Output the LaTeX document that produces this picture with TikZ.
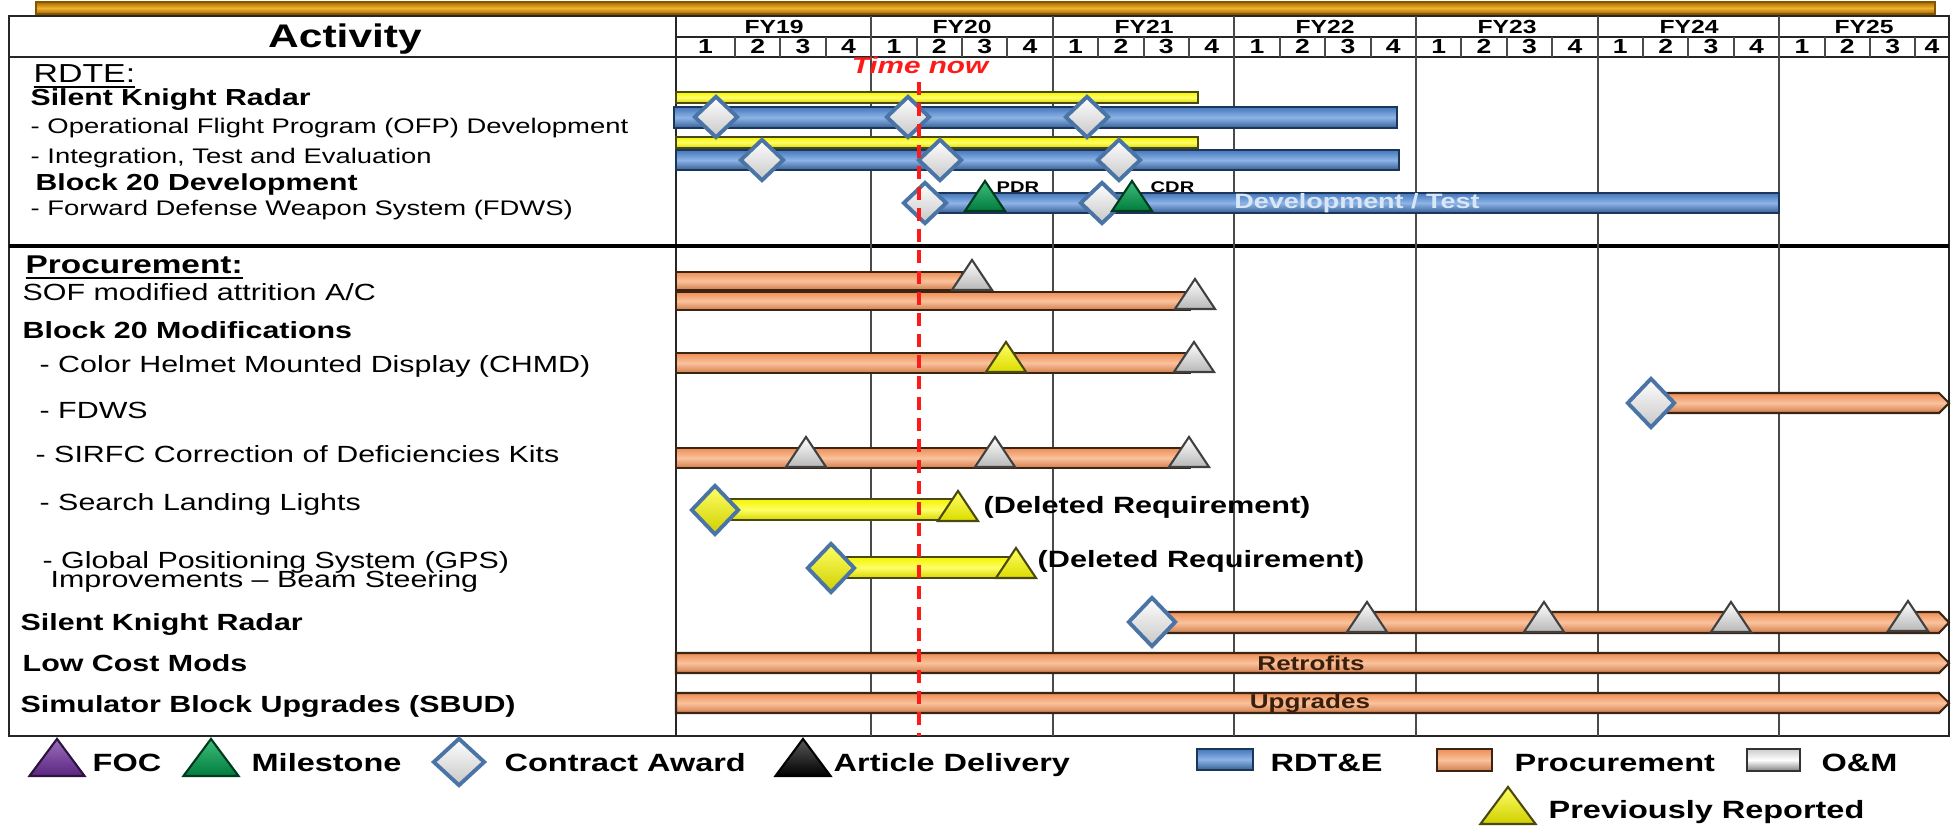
\documentclass[tikz,border=0pt]{standalone}
\usepackage{fontspec}
\setmainfont{Liberation Sans}[FakeStretch=1.3]
\usepackage{xcolor}
\usepackage{tikz}
\usetikzlibrary{shapes.geometric}
\definecolor{rdtBlue}{HTML}{4477BC}
\definecolor{rdtBlueLt}{HTML}{8DB4E6}
\definecolor{rdtBlueDk}{HTML}{1C365A}
\definecolor{procOrange}{HTML}{EE8E55}
\definecolor{procOrangeLt}{HTML}{FAC29C}
\definecolor{procOrangeDk}{HTML}{3A2414}
\definecolor{prevYellow}{HTML}{F4F400}
\definecolor{prevYellowLt}{HTML}{FFFF66}
\definecolor{prevYellowDk}{HTML}{4A4A10}
\definecolor{awardSteel}{HTML}{4A74A6}
\definecolor{msGreen}{HTML}{00A651}
\definecolor{focPurple}{HTML}{7030A0}
\definecolor{nowRed}{HTML}{FF1A1A}
\definecolor{gridGray}{HTML}{4A4A4A}
\definecolor{bannerGold}{HTML}{F0B030}
\definecolor{bannerBrown}{HTML}{A86A00}
\definecolor{devText}{HTML}{D8E6F6}
\definecolor{procText}{HTML}{3A1E0C}

\begin{document}
\begin{tikzpicture}[
    x=0.01cm, y=-0.01cm,
    grid/.style={draw=gridGray, line width=0.6pt},
    frame/.style={draw=black!85, line width=0.6pt},
    rdtbar/.style={draw=rdtBlueDk, line width=0.6pt, top color=rdtBlue, bottom color=rdtBlue!80!black, middle color=rdtBlueLt},
    procbar/.style={draw=procOrangeDk, line width=0.6pt, top color=procOrange, bottom color=procOrange!88!black, middle color=procOrangeLt},
    prevbar/.style={draw=prevYellowDk, line width=0.6pt, top color=prevYellow, bottom color=prevYellow!88!black, middle color=prevYellowLt},
    award/.style={diamond, draw=awardSteel, line width=1.1pt, top color=white, bottom color=black!22, minimum width=0.44cm, minimum height=0.42cm, inner sep=0pt},
    paward/.style={award, minimum width=0.48cm, minimum height=0.50cm},
    prevaward/.style={paward, top color=prevYellowLt, bottom color=prevYellow!85!black},
    tri/.style={isosceles triangle, isosceles triangle stretches, shape border rotate=90, minimum width=0.40cm, minimum height=0.30cm, inner sep=0pt, anchor=south, line width=0.6pt},
    keytri/.style={tri, minimum width=0.55cm, minimum height=0.37cm},
    omtri/.style={tri, draw=black!75, top color=white, bottom color=black!28},
    prevtri/.style={tri, draw=prevYellowDk, top color=prevYellowLt, bottom color=prevYellow!90!black},
    mstri/.style={tri, draw=msGreen!35!black, top color=msGreen!75!white, bottom color=msGreen!75!black},
    lbl/.style={anchor=base west, inner sep=0pt},
    head/.style={lbl, font=\fontsize{6.6}{7}\selectfont\bfseries},
    item/.style={lbl, font=\fontsize{6.0}{7}\selectfont},
    pitem/.style={lbl, font=\fontsize{6.65}{7}\selectfont},
    phead/.style={lbl, font=\fontsize{6.65}{7}\selectfont\bfseries},
    deleted/.style={lbl, font=\fontsize{6.7}{7}\selectfont\bfseries},
    key/.style={lbl, font=\fontsize{7.1}{8}\selectfont\bfseries},
    fylbl/.style={anchor=base, inner sep=0pt, font=\fontsize{5.4}{6}\selectfont\bfseries},
    qnum/.style={anchor=base, inner sep=0pt, font=\fontsize{5.8}{6}\selectfont\bfseries}
  ]
  \useasboundingbox (0,0) rectangle (1959,827);
  \draw[draw=bannerBrown!80!black, line width=0.4pt, top color=bannerBrown, bottom color=bannerBrown, middle color=bannerGold] (36,2) rectangle (1935,14);

  \draw[frame] (9,16) rectangle (1949,736);
  \draw[frame] (9,57) -- (1949,57);
  \draw[frame] (676,37) -- (1949,37);
  \draw[frame] (676,16) -- (676,736);
  \draw[black, line width=1.1pt] (9,246) -- (1949,246);
  \foreach \xa in {871,1053,1234,1416,1598,1779}
    \draw[grid] (\xa,16) -- (\xa,736);
  \foreach \k in {1,2,3,5,6,7,9,10,11,13,14,15,17,18,19,21,22,23,25,26,27}
    \draw[grid] ({735+(\k-1)*45.4},37) -- ({735+(\k-1)*45.4},57);

  \node[anchor=base, inner sep=0pt, font=\fontsize{9.3}{10}\selectfont\bfseries] (hdr) at (345,47) {Activity};
  \foreach \fy/\xc in {19/774,20/962,21/1144,22/1325,23/1507,24/1689,25/1864}
    \node[fylbl] (fy\fy) at (\xc,33) {FY\fy};
  \node[qnum] (q0) at (705.5,53) {1};
  \foreach \k in {1,...,26} {
    \pgfmathtruncatemacro\qn{mod(\k,4)+1}
    \node[qnum] (q\k) at ({735+(\k-0.5)*45.4},53) {\qn};
  }
  \node[qnum] (q27) at (1932,53) {4};

  \node[lbl, font=\fontsize{7.4}{8}\selectfont] (rdte) at (33,82) {\underline{RDTE:}};
  \node[head]  (skr)  at (30,105) {Silent Knight Radar};
  \node[item]  (ofp)  at (30,133) {- Operational Flight Program (OFP) Development};
  \node[item]  (ite)  at (30,163) {- Integration, Test and Evaluation};
  \node[head]  (b20d) at (35,190) {Block 20 Development};
  \node[item]  (fdws) at (30,215) {- Forward Defense Weapon System (FDWS)};

  \node[lbl, font=\fontsize{7.3}{8}\selectfont\bfseries] (proc) at (25,273) {\underline{Procurement:}};
  \node[pitem] (sof)   at (22,300) {SOF modified attrition A/C};
  \node[phead] (b20m)  at (22,338) {Block 20 Modifications};
  \node[pitem] (chmd)  at (39,372) {- Color Helmet Mounted Display (CHMD)};
  \node[pitem] (fdwsp) at (39,418) {- FDWS};
  \node[pitem] (sirfc) at (35,462) {- SIRFC Correction of Deficiencies Kits};
  \node[pitem] (sll)   at (39,510) {- Search Landing Lights};
  \node[pitem] (gps)   at (42,568) {- Global Positioning System (GPS)};
  \node[pitem] (gpsb)  at (50,587) {Improvements – Beam Steering};
  \node[phead] (skrp)  at (20,630) {Silent Knight Radar};
  \node[phead] (lcm)   at (22,671) {Low Cost Mods};
  \node[phead] (sbud)  at (20,712) {Simulator Block Upgrades (SBUD)};

  \draw[prevbar] (676,92) rectangle (1198,103);
  \draw[rdtbar]  (674,107) rectangle (1397,128);
  \draw[prevbar] (676,137) rectangle (1198,148);
  \draw[rdtbar]  (676,150) rectangle (1399,170);
  \draw[rdtbar]  (927,193) rectangle (1779,213);
  \node[inner sep=0pt, text=devText, font=\fontsize{5.9}{6}\selectfont\bfseries] (devtest) at (1357,203) {Development / Test};

  \node[award] (ofpA)  at (716,117) {};
  \node[award] (ofpB)  at (908,117) {};
  \node[award] (ofpC)  at (1087,117) {};
  \node[award] (iteA)  at (762,160) {};
  \node[award] (iteB)  at (940,160) {};
  \node[award] (iteC)  at (1119,160) {};
  \node[award] (fdwsA) at (925,203) {};
  \node[award] (fdwsB) at (1102,203) {};
  \node[mstri] (pdr) at (985,212) {};
  \node[mstri] (cdr) at (1132,212) {};
  \node[lbl, font=\fontsize{4.4}{5}\selectfont\bfseries] (pdrL) at (996,192) {PDR};
  \node[lbl, font=\fontsize{4.4}{5}\selectfont\bfseries] (cdrL) at (1150,192) {CDR};

  \draw[procbar] (676,272) rectangle (962,290);
  \draw[procbar] (676,292) rectangle (1190,310);
  \draw[procbar] (676,353) rectangle (1190,373);
  \draw[procbar] (1651,393) -- (1939,393) -- (1949,403) -- (1939,413) -- (1651,413) -- cycle;
  \draw[procbar] (676,448) rectangle (1190,468);
  \draw[prevbar] (715,499) rectangle (958,520);
  \draw[prevbar] (831,557) rectangle (1016,578);
  \draw[procbar] (1152,612) -- (1939,612) -- (1949,622.5) -- (1939,633) -- (1152,633) -- cycle;
  \draw[procbar] (676,653) -- (1939,653) -- (1949,663) -- (1939,673) -- (676,673) -- cycle;
  \draw[procbar] (676,693) -- (1939,693) -- (1949,703) -- (1939,713) -- (676,713) -- cycle;
  \node[inner sep=0pt, text=procText, font=\fontsize{5.7}{6}\selectfont\bfseries] (retro) at (1311,663) {Retrofits};
  \node[inner sep=0pt, text=procText, font=\fontsize{5.7}{6}\selectfont\bfseries] (upgr)  at (1310,703) {Upgrades};

  \node[omtri]   (sofA)   at (972,291) {};
  \node[omtri]   (sofB)   at (1195,310) {};
  \node[prevtri] (chmdA)  at (1006,373) {};
  \node[omtri]   (chmdB)  at (1194,373) {};
  \node[paward]  (fdwsC)  at (1651,403) {};
  \node[omtri]   (sirfcA) at (806,468) {};
  \node[omtri]   (sirfcB) at (995,468) {};
  \node[omtri]   (sirfcC) at (1189,468) {};
  \node[prevaward] (sllA) at (715,510) {};
  \node[prevtri] (sllB)   at (958,522) {};
  \node[deleted] (sllL)   at (983,513) {(Deleted Requirement)};
  \node[prevaward] (gpsA) at (831,568) {};
  \node[prevtri] (gpsB)   at (1016,579) {};
  \node[deleted] (gpsL)   at (1037,567) {(Deleted Requirement)};
  \node[paward]  (skrA)   at (1152,622) {};
  \node[omtri]   (skrB)   at (1367,633) {};
  \node[omtri]   (skrC)   at (1544,633) {};
  \node[omtri]   (skrD)   at (1731,633) {};
  \node[omtri]   (skrE)   at (1908,632) {};

  \coordinate (nowTop) at (919,82);
  \coordinate (nowBot) at (919,736);
  \draw[nowRed, line width=1.4pt, dash pattern=on 0.13cm off 0.08cm] (nowTop) -- (nowBot);
  \node[anchor=base, inner sep=0pt, text=nowRed, font=\fontsize{6.5}{7}\selectfont\bfseries\itshape] (now) at (920,73) {Time now};

  \node[keytri, draw=focPurple!40!black, top color=focPurple!70!white, bottom color=focPurple!80!black] (kfoc) at (57,777) {};
  \node[key] (kfocL) at (92,771) {FOC};
  \node[keytri, draw=msGreen!35!black, top color=msGreen!75!white, bottom color=msGreen!75!black] (kms) at (211,777) {};
  \node[key] (kmsL) at (251,771) {Milestone};
  \node[award, minimum width=0.52cm, minimum height=0.48cm] (kaw) at (459,762) {};
  \node[key] (kawL) at (504,771) {Contract Award};
  \node[keytri, draw=black, top color=black!65, bottom color=black] (kad) at (803,777) {};
  \node[key] (kadL) at (833,771) {Article Delivery};
  \draw[rdtbar] (1197,749) rectangle (1253,770);
  \node[key] (krdL) at (1270,771) {RDT\&E};
  \draw[procbar] (1437,749) rectangle (1492,771);
  \node[key] (kprL) at (1514,771) {Procurement};
  \draw[draw=black!80, line width=0.6pt, top color=black!20, bottom color=black!50, middle color=white] (1747,749) rectangle (1800,771);
  \node[key] (komL) at (1821,771) {O\&M};
  \node[keytri, draw=prevYellowDk, top color=prevYellowLt, bottom color=prevYellow!85!black] (kprev) at (1508,825) {};
  \node[key] (kprevL) at (1548,818) {Previously Reported};
\end{tikzpicture}
\end{document}
